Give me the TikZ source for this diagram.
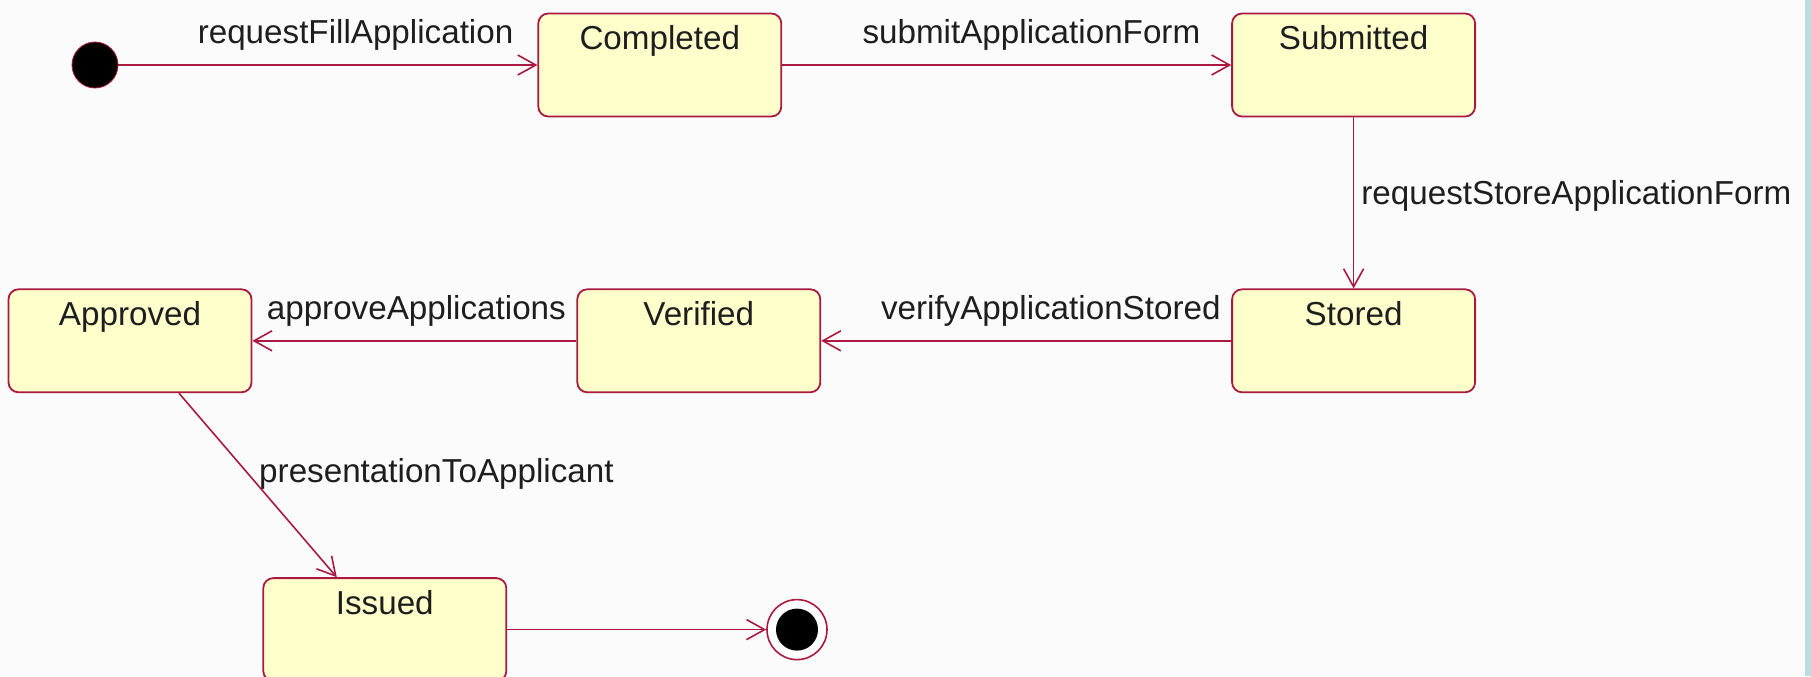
\documentclass[tikz,border=0pt]{standalone}
\usepackage{fontspec}
\setmainfont{Liberation Sans}
\usetikzlibrary{arrows.meta,positioning}
\definecolor{umlred}{RGB}{170,25,65}
\definecolor{umlfill}{RGB}{255,255,204}
\definecolor{umltext}{RGB}{30,30,30}
\definecolor{pagebg}{RGB}{251,251,251}
\definecolor{sidestripe}{RGB}{184,222,226}

\begin{document}
\begin{tikzpicture}[
  x=0.5pt, y=-0.5pt,
  state/.style={draw=umlred, line width=0.9pt, fill=umlfill, rounded corners=5pt, minimum width=121.5pt, inner sep=0pt, text height=18pt, text depth=33.5pt, font=\fontsize{16.6}{20}\selectfont, text=umltext},
  initial/.style={circle, draw=umlred, fill=black, minimum size=23pt, inner sep=0pt},
  final/.style={circle, draw=umlred, line width=0.8pt, fill=white, minimum size=30pt, inner sep=0pt, path picture={\fill[black] (path picture bounding box.center) circle (10.5pt);}},
  lbl/.style={inner sep=0pt, font=\fontsize{16.6}{20}\selectfont, text=umltext},
  arr/.style={-{Straight Barb[length=9pt, width=10pt]}, draw=umlred, line width=0.8pt},
]
  \fill[pagebg] (0,0) rectangle (1811,676);
  \fill[sidestripe] (1805,0) rectangle (1811,676);
  \useasboundingbox (0,0) rectangle (1811,676);

  \node[initial] (init) at (95,65) {};
  \node[state, right=209.5pt of init] (completed) {Completed};
  \node[state, right=224.5pt of completed] (submitted) {Submitted};
  \node[state, below=85.5pt of submitted] (stored) {Stored};
  \node[state, left=205pt of stored] (verified) {Verified};
  \node[state, left=162pt of verified] (approved) {Approved};
  \node[state, below right=92pt and 5pt of approved] (issued) {Issued};
  \node[final, right=129.5pt of issued] (final) {};

  \draw[arr] (init) -- node[lbl, pos=.566, above=7pt] {requestFillApplication} (completed);
  \draw[arr] (completed) -- node[lbl, pos=.555, above=7pt] {submitApplicationForm} (submitted);
  \draw[arr] (submitted) -- node[lbl, pos=.46, right=3.5pt] {requestStoreApplicationForm} (stored);
  \draw[arr] (stored) -- node[lbl, pos=.44, above=7pt] {verifyApplicationStored} (verified);
  \draw[arr] (verified) -- node[lbl, pos=.494, above=7pt] {approveApplications} (approved);
  \draw[arr] ([xshift=24.5pt]approved.south) -- node[lbl, pos=.44, right=5pt] {presentationToApplicant} ([xshift=-24pt]issued.north);
  \draw[arr] (issued) -- (final);
\end{tikzpicture}
\end{document}
